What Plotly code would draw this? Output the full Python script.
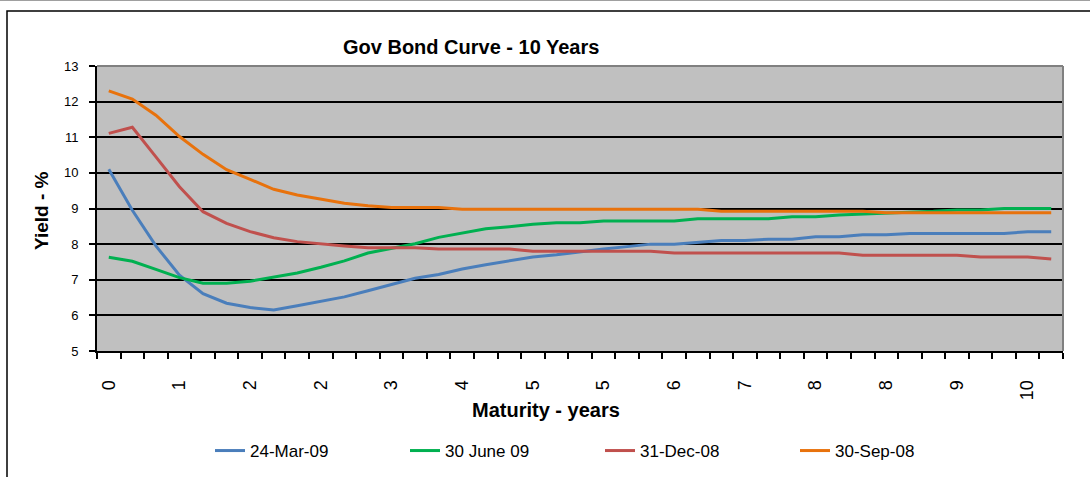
import plotly.graph_objects as go

# ---- data ----
maturity_years = [0.0, 0.25, 0.5, 0.75, 1.0, 1.25, 1.5, 1.75, 2.0, 2.25,
                  2.5, 2.75, 3.0, 3.25, 3.5, 3.75, 4.0, 4.25, 4.5, 4.75,
                  5.0, 5.25, 5.5, 5.75, 6.0, 6.25, 6.5, 6.75, 7.0, 7.25,
                  7.5, 7.75, 8.0, 8.25, 8.5, 8.75, 9.0, 9.25, 9.5, 9.75, 10.0]

mar_09 = [10.10, 8.95, 7.95, 7.13, 6.61, 6.34, 6.22, 6.15, 6.27, 6.40,
          6.52, 6.69, 6.87, 7.04, 7.15, 7.30, 7.42, 7.54, 7.64, 7.70,
          7.79, 7.86, 7.93, 8.00, 8.00, 8.04, 8.10, 8.10, 8.14, 8.14,
          8.21, 8.21, 8.26, 8.26, 8.30, 8.30, 8.30, 8.30, 8.30, 8.35, 8.35]

jun_09 = [7.63, 7.52, 7.29, 7.06, 6.90, 6.90, 6.96, 7.08, 7.19, 7.35,
          7.53, 7.75, 7.88, 8.01, 8.19, 8.32, 8.43, 8.49, 8.56, 8.60,
          8.60, 8.65, 8.65, 8.65, 8.65, 8.71, 8.71, 8.71, 8.71, 8.77,
          8.77, 8.82, 8.84, 8.88, 8.90, 8.92, 8.96, 8.96, 9.00, 9.00, 9.00]

dec_08 = [11.11, 11.28, 10.45, 9.61, 8.91, 8.58, 8.35, 8.18, 8.07, 8.00,
          7.95, 7.90, 7.90, 7.90, 7.86, 7.86, 7.86, 7.86, 7.80, 7.80,
          7.80, 7.80, 7.80, 7.80, 7.75, 7.75, 7.75, 7.75, 7.75, 7.75,
          7.75, 7.75, 7.69, 7.69, 7.69, 7.69, 7.69, 7.64, 7.64, 7.64, 7.58]

sep_08 = [12.30, 12.07, 11.62, 11.02, 10.52, 10.09, 9.82, 9.54, 9.38, 9.26,
          9.15, 9.08, 9.03, 9.03, 9.03, 8.98, 8.98, 8.98, 8.98, 8.98,
          8.98, 8.98, 8.98, 8.98, 8.98, 8.98, 8.92, 8.92, 8.92, 8.92,
          8.92, 8.92, 8.92, 8.88, 8.88, 8.88, 8.88, 8.88, 8.88, 8.88, 8.88]

series_names = ["24-Mar-09", "30 June 09", "31-Dec-08", "30-Sep-08"]
series_colors = ["#4A7EBB", "#00B050", "#C0504D", "#E8720C"]

tick_positions = [0.0, 0.75, 1.5, 2.25, 3.0, 3.75, 4.5, 5.25, 6.0, 6.75,
                  7.5, 8.25, 9.0, 9.75]
tick_labels = ["0", "1", "2", "2", "3", "4", "5", "5", "6", "7",
               "8", "8", "9", "10"]

FONT = "Liberation Sans, Arial, sans-serif"

fig = go.Figure()
for name, ys, col in zip(series_names, [mar_09, jun_09, dec_08, sep_08], series_colors):
    fig.add_trace(go.Scatter(x=maturity_years, y=ys, mode="lines", name=name,
                             line=dict(color=col, width=3)))

W, H = 1090, 477
L, R, T, B = 97, 27, 66, 126
pw, ph = W - L - R, H - T - B

def px_x(p):
    return (p - L) / pw

def px_y(p):
    return (H - B - p) / ph

fig.update_layout(
    width=W, height=H,
    margin=dict(l=L, r=R, t=T, b=B, pad=0),
    paper_bgcolor="white",
    plot_bgcolor="#C0C0C0",
    font=dict(family=FONT, color="black"),
    showlegend=True,
    legend=dict(orientation="h", xref="container", yref="container",
                x=210 / W, y=26 / H, xanchor="left", yanchor="middle",
                font=dict(size=17, family=FONT), entrywidth=150,
                bgcolor="rgba(0,0,0,0)"),
    xaxis=dict(range=[-0.125, 10.125], tickmode="array",
               tickvals=tick_positions, ticktext=tick_labels,
               tickangle=-90, ticks="", ticklabelstandoff=20,
               tickfont=dict(size=18, family=FONT),
               showgrid=False, zeroline=False,
               showline=True, linecolor="black", linewidth=2,
               minor=dict(tickmode="linear", tick0=-0.125, dtick=0.25,
                          ticks="outside", ticklen=6, tickcolor="black",
                          tickwidth=1.5, showgrid=False)),
    yaxis=dict(range=[5, 13], dtick=1, tick0=5,
               ticks="outside", ticklen=6, tickcolor="black", tickwidth=1.5,
               ticklabelstandoff=8,
               tickfont=dict(size=13, family=FONT),
               showgrid=True, gridcolor="black", gridwidth=1.5,
               zeroline=False,
               showline=True, linecolor="black", linewidth=2),
    annotations=[
        dict(text="<b>Gov Bond Curve - 10 Years</b>", xref="paper", yref="paper",
             x=px_x(471), y=px_y(47), showarrow=False,
             font=dict(size=20, family=FONT), xanchor="center", yanchor="middle"),
        dict(text="<b>Maturity - years</b>", xref="paper", yref="paper",
             x=px_x(546), y=px_y(410), showarrow=False,
             font=dict(size=20, family=FONT), xanchor="center", yanchor="middle"),
        dict(text="<b>Yield - %</b>", xref="paper", yref="paper",
             x=px_x(41), y=px_y(211), showarrow=False, textangle=-90,
             font=dict(size=19, family=FONT), xanchor="center", yanchor="middle"),
    ],
    shapes=[
        # top and right edges of plot area (gray)
        dict(type="line", xref="paper", yref="paper", x0=0, x1=1, y0=1, y1=1,
             line=dict(color="#808080", width=2)),
        dict(type="line", xref="paper", yref="paper", x0=1, x1=1, y0=0, y1=1,
             line=dict(color="#808080", width=2)),
        # outer chart border
        dict(type="rect", xref="paper", yref="paper",
             x0=px_x(7), x1=px_x(1100), y0=px_y(490), y1=px_y(11),
             line=dict(color="black", width=1.5), fillcolor="rgba(0,0,0,0)"),
        dict(type="line", xref="paper", yref="paper",
             x0=px_x(0), x1=px_x(1090), y0=px_y(0.5), y1=px_y(0.5),
             line=dict(color="#A0A0A0", width=1)),
    ],
)

fig.write_html("out.html")
